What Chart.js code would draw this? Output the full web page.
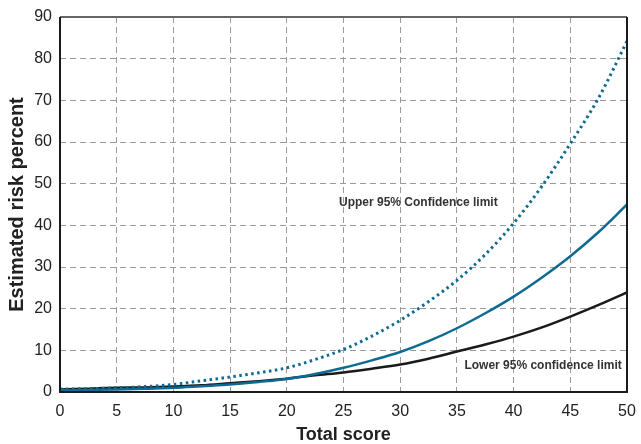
<!DOCTYPE html>
<html>
<head>
<meta charset="utf-8">
<title>Estimated risk percent</title>
<script src="https://cdn.jsdelivr.net/npm/chart.js@4/dist/chart.umd.min.js"></script>
<style>
  html, body { margin: 0; padding: 0; background: #fff; }
  #wrap { width: 641px; height: 444px; position: relative; }
</style>
</head>
<body>
<div id="wrap"><canvas id="risk-chart"></canvas></div>
<script>
// Total score (x) and readings, every 2.5 points
const scores = [0, 2.5, 5, 7.5, 10, 12.5, 15, 17.5, 20, 22.5, 25, 27.5, 30, 32.5, 35, 37.5, 40, 42.5, 45, 47.5, 50];
const estimate = [0.4, 0.5, 0.6, 0.8, 1.0, 1.4, 1.8, 2.4, 3.1, 4.3, 5.8, 7.6, 9.6, 12.2, 15.3, 18.9, 22.9, 27.5, 32.6, 38.4, 45.0];
const upperLimit = [0.7, 0.8, 1.0, 1.3, 1.8, 2.7, 3.6, 4.6, 5.8, 7.8, 10.2, 13.4, 17.2, 21.7, 26.8, 33.0, 40.5, 49.4, 59.6, 70.6, 84.2];
const lowerLimit = [0.6, 0.8, 1.0, 1.1, 1.3, 1.6, 2.1, 2.6, 3.2, 4.0, 4.7, 5.6, 6.6, 8.0, 9.7, 11.4, 13.3, 15.5, 18.1, 20.9, 23.9];

const xTicks = [0, 5, 10, 15, 20, 25, 30, 35, 40, 45, 50];
const yTicks = [0, 10, 20, 30, 40, 50, 60, 70, 80, 90];

// labels inside the plot, placed in data units
const notes = [
  { text: 'Upper 95% Confidence limit', x: 31.6, y: 45.5 },
  { text: 'Lower 95% confidence limit', x: 42.6, y: 6.2 },
];

const BLUE = '#0d6b93';
const FONT = "'Liberation Sans', Arial, Helvetica, sans-serif";

const toPoints = (vals) => vals.map((v, i) => ({ x: scores[i], y: v }));

// frame around the chart area + the two text labels
const framePlugin = {
  id: 'frame',
  afterDraw(chart) {
    const { ctx, chartArea: a, scales } = chart;
    ctx.save();
    ctx.lineWidth = 2;
    ctx.strokeStyle = '#666';
    ctx.beginPath();
    ctx.moveTo(a.left, a.top);
    ctx.lineTo(a.right, a.top);
    ctx.stroke();
    ctx.strokeStyle = '#1a1a1a';
    ctx.beginPath();
    ctx.moveTo(a.right, a.top);
    ctx.lineTo(a.right, a.bottom);
    ctx.lineTo(a.left, a.bottom);
    ctx.lineTo(a.left, a.top);
    ctx.stroke();

    ctx.fillStyle = '#333';
    ctx.font = `bold 12px ${FONT}`;
    ctx.textAlign = 'center';
    ctx.textBaseline = 'middle';
    notes.forEach((n) => {
      ctx.fillText(n.text, scales.x.getPixelForValue(n.x), scales.y.getPixelForValue(n.y));
    });
    ctx.restore();
  },
};

const gridStyle = {
  color: '#9a9a9a',
  lineWidth: 1,
  drawTicks: false,
};

new Chart(document.getElementById('risk-chart'), {
  type: 'line',
  data: {
    datasets: [
      {
        label: 'Upper 95% Confidence limit',
        data: toPoints(upperLimit),
        borderColor: BLUE,
        borderWidth: 3,
        borderDash: [2.5, 3.5],
        cubicInterpolationMode: 'monotone',
        pointRadius: 0,
        fill: false,
      },
      {
        label: 'Estimated risk',
        data: toPoints(estimate),
        borderColor: BLUE,
        borderWidth: 2.5,
        cubicInterpolationMode: 'monotone',
        pointRadius: 0,
        fill: false,
      },
      {
        label: 'Lower 95% confidence limit',
        data: toPoints(lowerLimit),
        borderColor: '#1a1a1a',
        borderWidth: 2.5,
        cubicInterpolationMode: 'monotone',
        pointRadius: 0,
        fill: false,
      },
    ],
  },
  options: {
    responsive: true,
    maintainAspectRatio: false,
    animation: false,
    layout: { padding: { top: 17, right: 14, left: 4, bottom: 0 } },
    plugins: {
      legend: { display: false },
      tooltip: { enabled: false },
    },
    scales: {
      x: {
        type: 'linear',
        min: 0,
        max: 50,
        afterBuildTicks: (scale) => { scale.ticks = xTicks.map((v) => ({ value: v })); },
        grid: { ...gridStyle },
        border: { display: false, dash: [6, 4] },
        ticks: { color: '#222', padding: 10, font: { family: FONT, size: 16 } },
        title: {
          display: true,
          text: 'Total score',
          color: '#222',
          padding: { top: 0, bottom: 0 },
          font: { family: FONT, size: 18, weight: 'bold', lineHeight: 1 },
        },
        afterFit: (scale) => {
          scale.height = 52;
          // let the layout padding alone decide the right edge
          scale.paddingRight = 0;
          scale.paddingLeft = 0;
        },
      },
      y: {
        min: 0,
        max: 90,
        afterBuildTicks: (scale) => { scale.ticks = yTicks.map((v) => ({ value: v })); },
        grid: { ...gridStyle },
        border: { display: false, dash: [6, 4] },
        ticks: { color: '#222', padding: 8, font: { family: FONT, size: 16 } },
        title: {
          display: true,
          text: 'Estimated risk percent',
          color: '#222',
          padding: { top: 1, bottom: 0 },
          font: { family: FONT, size: 20, weight: 'bold' },
        },
        afterFit: (scale) => {
          scale.width = 56;
          scale.paddingTop = 0;
          scale.paddingBottom = 0;
        },
      },
    },
  },
  plugins: [framePlugin],
});
</script>
</body>
</html>
